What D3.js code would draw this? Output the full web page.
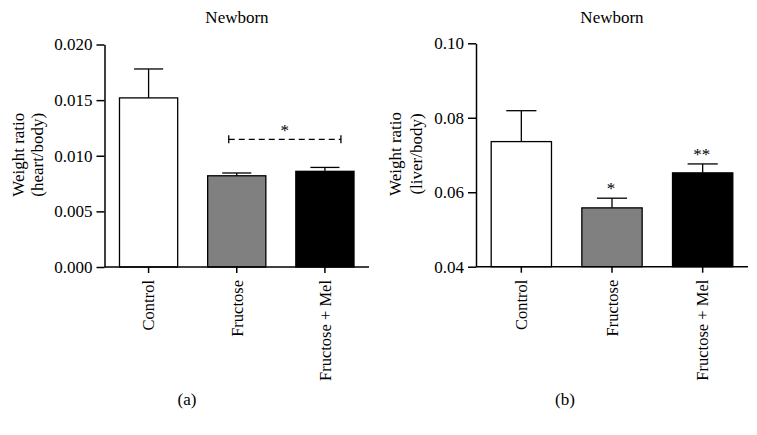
<!DOCTYPE html>
<html>
<head>
<meta charset="utf-8">
<script src="https://cdn.jsdelivr.net/npm/d3@7"></script>
<style>
  html, body { margin: 0; padding: 0; background: #fff; }
  svg { display: block; }
  text { font-family: "Liberation Serif", "Times New Roman", serif; fill: #000; }
</style>
</head>
<body>
<svg id="chart" width="757" height="435"></svg>
<script>
// ---- data ----
const categories = ["Control", "Fructose", "Fructose + Mel"];
const heartMeans = [0.0152, 0.0082, 0.0086];
const heartErrTops = [0.0178, 0.00845, 0.00895];
const liverMeans = [0.0736, 0.0558, 0.0652];
const liverErrTops = [0.0819, 0.0584, 0.0676];
const heartTicks = [0.000, 0.005, 0.010, 0.015, 0.020];
const liverTicks = [0.04, 0.06, 0.08, 0.10];
const barFills = ["#ffffff", "#808080", "#000000"];
const panelTitles = ["Newborn", "Newborn"];
const panelLetters = ["(a)", "(b)"];
const yLabelLines = [["Weight ratio", "(heart/body)"], ["Weight ratio", "(liver/body)"]];

const svg = d3.select("#chart");
const FS = 17;
const FSX = 16.5;

function drawPanel(cfg) {
  const g = svg.append("g");
  const x = d3.scaleBand().domain(categories).range([cfg.left, cfg.right])
    .paddingInner(cfg.pad).paddingOuter(cfg.pad / 2);
  const y = d3.scaleLinear().domain(cfg.domain).range([cfg.bottom, cfg.top]);

  // bars
  g.selectAll("rect.bar").data(categories).enter().append("rect")
    .attr("x", d => x(d)).attr("width", x.bandwidth())
    .attr("y", (d, i) => y(cfg.means[i]))
    .attr("height", (d, i) => y(cfg.domain[0]) - y(cfg.means[i]))
    .attr("fill", (d, i) => barFills[i])
    .attr("stroke", "#000").attr("stroke-width", 1.3);

  // error bars
  categories.forEach((c, i) => {
    const cx = x(c) + x.bandwidth() / 2;
    const w = x.bandwidth() / 4;
    g.append("line").attr("x1", cx).attr("x2", cx)
      .attr("y1", y(cfg.means[i])).attr("y2", y(cfg.errs[i]))
      .attr("stroke", "#000").attr("stroke-width", 1.3);
    g.append("line").attr("x1", cx - w).attr("x2", cx + w)
      .attr("y1", y(cfg.errs[i])).attr("y2", y(cfg.errs[i]))
      .attr("stroke", "#000").attr("stroke-width", 1.3);
  });

  // y axis
  const ya = g.append("g").attr("transform", `translate(${cfg.left},0)`)
    .call(d3.axisLeft(y).tickValues(cfg.ticks).tickFormat(cfg.fmt).tickSize(8).tickSizeOuter(0).tickPadding(4));
  ya.select(".domain").attr("stroke-width", 1.5);
  ya.selectAll(".tick line").attr("stroke-width", 1.5);
  ya.selectAll("text").style("font-size", FS + "px").style("font-family", '"Liberation Serif", serif');

  // x axis
  const xa = g.append("g").attr("transform", `translate(0,${cfg.bottom})`)
    .call(d3.axisBottom(x).tickSize(6).tickSizeOuter(0));
  xa.select(".domain").attr("stroke-width", 1.5).attr("d", `M${cfg.left},0H${cfg.right}`);
  xa.selectAll(".tick line").attr("stroke-width", 1.5);
  xa.selectAll("text").style("font-size", FSX + "px").style("font-family", '"Liberation Serif", serif')
    .attr("transform", "rotate(-90)").attr("x", -13).attr("y", 0).attr("dy", "0.35em")
    .style("text-anchor", "end");

  // title
  g.append("text").attr("x", cfg.titleX).attr("y", 22.5).attr("text-anchor", "middle")
    .style("font-size", FS + "px").text(cfg.title);

  // y label
  const midY = (cfg.top + cfg.bottom) / 2;
  cfg.ylab.forEach((t, k) => {
    g.append("text").attr("transform", `translate(${cfg.ylabX[k]},${midY - 1}) rotate(-90)`)
      .attr("text-anchor", "middle").style("font-size", FS + "px").text(t);
  });

  // letter
  g.append("text").attr("x", cfg.letterX).attr("y", 405).attr("text-anchor", "middle")
    .style("font-size", FS + "px").text(cfg.letter);

  return { g, x, y };
}

// panel (a)
const A = drawPanel({
  left: 104.5, right: 369, top: 44.5, bottom: 267, pad: 0.34,
  domain: [0, 0.02], ticks: heartTicks, fmt: d3.format(".3f"),
  means: heartMeans, errs: heartErrTops,
  title: panelTitles[0], titleX: 237, ylab: yLabelLines[0], ylabX: [24, 43],
  letter: panelLetters[0], letterX: 187
});
// significance bracket in (a)
(function () {
  const x = A.x, y = A.y;
  const x1 = x("Fructose") + x.bandwidth() / 2 - 8;
  const x2 = x("Fructose + Mel") + x.bandwidth() / 2 + 16;
  const yy = y(0.01148);
  A.g.append("line").attr("x1", x1).attr("x2", x2).attr("y1", yy).attr("y2", yy)
    .attr("stroke", "#000").attr("stroke-width", 1.3).attr("stroke-dasharray", "6,4");
  [x1, x2].forEach(xx => A.g.append("line").attr("x1", xx).attr("x2", xx)
    .attr("y1", yy - 4).attr("y2", yy + 4).attr("stroke", "#000").attr("stroke-width", 1.3));
  A.g.append("text").attr("x", (x1 + x2) / 2).attr("y", yy - 3).attr("text-anchor", "middle")
    .style("font-size", FS + "px").text("*");
})();

// panel (b)
const B = drawPanel({
  left: 476, right: 748, top: 43.3, bottom: 266.7, pad: 0.335,
  domain: [0.04, 0.10], ticks: liverTicks, fmt: d3.format(".2f"),
  means: liverMeans, errs: liverErrTops,
  title: panelTitles[1], titleX: 612, ylab: yLabelLines[1], ylabX: [401, 421.5],
  letter: panelLetters[1], letterX: 565
});
(function () {
  const x = B.x, y = B.y;
  const stars = ["", "*", "**"];
  categories.forEach((c, i) => {
    if (!stars[i]) return;
    B.g.append("text").attr("x", x(c) + x.bandwidth() / 2 - 1)
      .attr("y", y(liverErrTops[i]) - 4).attr("text-anchor", "middle")
      .style("font-size", FS + "px").text(stars[i]);
  });
})();
</script>
</body>
</html>
